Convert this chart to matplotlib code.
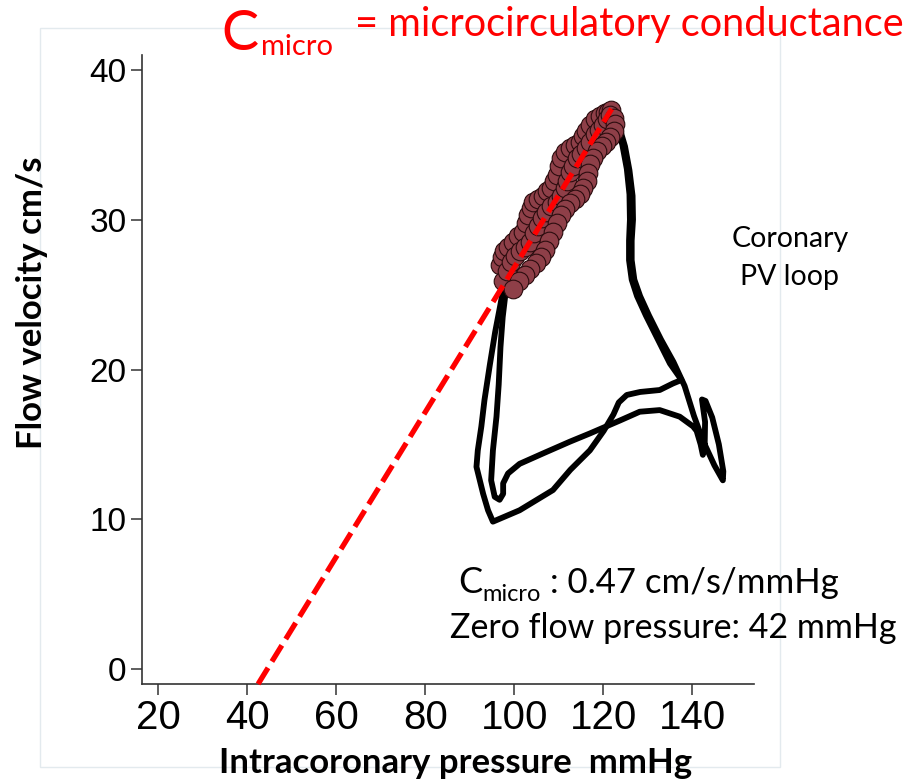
import matplotlib
matplotlib.use("Agg")
import matplotlib.pyplot as plt
from matplotlib.patches import Rectangle

# upstroke shared by both beats (hidden under the circles)
up_p = [97.6, 98.5, 100.0, 102.0, 104.0, 106.0, 108.0, 110.0, 112.0, 114.0, 116.0, 118.0, 120.0, 122.0]
up_v = [25.5, 26.5, 27.5, 28.6, 29.6, 30.3, 31.0, 32.0, 33.3, 34.2, 35.0, 35.9, 36.6, 37.3]

# beat 1 (upper return curve, outer left limb)
beat_b_p = [122.0, 123.1, 124.3, 125.3, 125.9, 126.0, 125.8, 125.8, 126.4, 127.6, 129.6, 132.3, 135.0, 137.6,
            135.7, 132.7, 128.3, 125.3, 123.5, 122.3, 120.1, 117.0, 112.6, 108.7, 101.2, 95.2, 94.1,
            93.0, 91.5, 91.8, 92.6, 93.3, 94.5, 95.7, 96.8, 97.6]
beat_b_v = [37.3, 36.3, 35.0, 33.4, 31.7, 30.0, 28.6, 27.3, 26.0, 24.9, 23.6, 22.0, 20.4, 19.3,
            19.07, 18.63, 18.5, 18.3, 17.8, 17.0, 15.9, 14.6, 13.3, 11.95, 10.6, 9.84, 10.6,
            11.7, 13.5, 14.6, 16.2, 17.96, 20.3, 22.5, 24.2, 25.5]

# beat 2 (right tip, lower return curve, inner left limb)
beat_a_p = [122.3, 123.6, 124.9, 125.9, 126.6, 126.7, 126.4, 126.4, 127.0, 128.3, 130.3, 133.0, 135.8, 138.3,
            140.4, 142.5, 145.0, 146.9, 147.0, 146.0, 144.5, 143.0, 142.2, 142.9, 142.8, 142.4, 141.9,
            141.0, 140.2, 137.2, 132.7, 128.2, 123.8, 117.0, 112.5, 106.5, 101.2, 98.6, 97.5, 97.5,
            96.7, 95.6, 94.8, 95.2, 96.0, 96.5, 96.9, 97.4, 98.0, 98.6]
beat_a_v = [37.2, 36.2, 34.9, 33.3, 31.6, 30.0, 28.6, 27.3, 26.0, 24.9, 23.6, 22.0, 20.5, 18.9,
            16.9, 15.2, 13.6, 12.6, 13.2, 15.0, 16.8, 17.9, 18.0, 16.5, 14.8, 14.3, 15.0,
            15.9, 16.2, 16.85, 17.29, 17.18, 16.6, 15.73, 15.18, 14.4, 13.7, 13.06, 12.4, 11.7,
            11.3, 11.5, 12.6, 14.6, 16.85, 19.0, 21.5, 23.5, 25.0, 26.0]

# samples used for the fit (circles): three overlapping runs along the upstroke
circ_p = [96.7, 97.2, 97.8, 98.7, 99.7, 100.8, 102.0, 102.6, 103.1, 103.7, 104.2, 105.3, 106.5, 107.4,
          108.3, 108.9, 109.5, 110.0, 110.6, 111.5, 112.5, 113.6, 114.7, 115.5, 116.2, 117.1, 118.1,
          119.2, 120.3, 121.0, 121.8,
          97.5, 98.4, 99.3, 100.2, 101.2, 102.3, 103.5, 104.4, 105.3, 106.2, 107.2, 108.3, 109.5, 110.4,
          111.3, 111.9, 112.5, 113.2, 114.0, 115.1, 116.2, 117.1, 118.1, 119.0, 120.0, 120.8, 121.5,
          122.4, 122.6, 122.4, 121.6, 120.7, 119.8, 118.6, 117.7, 117.0, 116.6, 116.3, 115.5, 114.7,
          113.6, 112.5, 111.5, 110.6, 109.6, 108.7, 107.8, 106.8, 105.9, 104.8, 103.6, 102.3, 101.0, 99.7]
circ_v = [27.0, 27.5, 27.9, 28.2, 28.5, 28.9, 29.2, 29.8, 30.3, 30.8, 31.2, 31.4, 31.6, 31.9,
          32.1, 32.6, 33.0, 33.6, 34.1, 34.5, 34.8, 35.0, 35.2, 35.6, 35.9, 36.3, 36.7,
          36.9, 37.1, 37.2, 37.3,
          25.9, 26.6, 27.2, 27.6, 27.9, 28.2, 28.5, 29.1, 29.6, 30.1, 30.5, 30.9, 31.2, 31.6,
          32.1, 32.6, 33.2, 33.6, 34.1, 34.4, 34.8, 35.2, 35.7, 36.0, 36.3, 36.7, 37.0,
          36.8, 36.4, 35.9, 35.5, 35.2, 34.9, 34.6, 34.1, 33.7, 33.1, 32.6, 32.1, 31.7,
          31.4, 31.1, 30.7, 30.3, 29.8, 29.2, 28.6, 28.0, 27.5, 27.1, 26.7, 26.3, 25.9, 25.4]

# fitted conductance line: zero flow pressure -> top of the loop
fit_p = [42.4, 121.9]
fit_v = [-1.0, 37.4]

x_ticks = [20, 40, 60, 80, 100, 120, 140]
y_ticks = [0, 10, 20, 30, 40]

W, H = 911, 783


def fx(px):
    return px / W


def fy(py):
    return 1 - py / H


fig = plt.figure(figsize=(W / 100, H / 100), dpi=100)
fig.patches.append(Rectangle((fx(40), fy(767)), fx(780) - fx(40), fy(28) - fy(767),
                             transform=fig.transFigure, fill=False, edgecolor="#e3eaee", lw=1))

ax = fig.add_axes([fx(142), fy(684), fx(754) - fx(142), fy(55) - fy(684)])
ax.set_xlim(16.3, 153.9)
ax.set_ylim(-1.0, 41.0)

for bp, bv in [(beat_b_p, beat_b_v), (beat_a_p, beat_a_v)]:
    ax.plot(up_p + bp, up_v + bv, color="black", lw=4.2, solid_joinstyle="round",
            solid_capstyle="round", zorder=2)

ax.scatter(circ_p, circ_v, s=180, color="#8e3f48", edgecolor="#2b0c0e", linewidth=0.8, zorder=3)
ax.plot(fit_p, fit_v, color="red", lw=3.8, dashes=(3.6, 1.4), zorder=4, clip_on=False)

ax.spines["top"].set_visible(False)
ax.spines["right"].set_visible(False)
for s in ["left", "bottom"]:
    ax.spines[s].set_color("#333333")
    ax.spines[s].set_linewidth(1.2)

ax.set_xticks(x_ticks, labels=[str(t) for t in x_ticks],
              fontfamily=["Liberation Sans Narrow", "Liberation Sans", "DejaVu Sans"], fontsize=29)
ax.set_yticks(y_ticks, labels=[str(t) for t in y_ticks],
              fontfamily=["Liberation Sans", "DejaVu Sans"], fontsize=24)
ax.tick_params(direction="out", length=8, width=1.1, color="#333333")
ax.tick_params(axis="x", pad=3)
ax.tick_params(axis="y", pad=3)

lato = ["Lato", "DejaVu Sans"]

fig.text(fx(32), fy(303), "Flow velocity cm/s", rotation=90, ha="center", va="center",
         fontsize=25, fontweight="bold", family=lato)
fig.text(fx(456), fy(773), "Intracoronary pressure  mmHg", ha="center", va="baseline",
         fontsize=25, fontweight="bold", family=lato)

# title
fig.text(fx(221), fy(50), "C", color="red", fontsize=40, family=lato, va="baseline")
fig.text(fx(261), fy(55), "micro", color="red", fontsize=21, family=lato, va="baseline")
fig.text(fx(355), fy(36), "= microcirculatory conductance", color="red", fontsize=28.6,
         family=lato, va="baseline")

fig.text(fx(790), fy(247), "Coronary", ha="center", va="baseline", fontsize=20.5, family=lato)
fig.text(fx(790), fy(285), "PV loop", ha="center", va="baseline", fontsize=20.5, family=lato)

fig.text(fx(458), fy(593), "C", fontsize=26, family=lato, va="baseline")
fig.text(fx(482), fy(601), "micro", fontsize=17, family=lato, va="baseline")
fig.text(fx(550), fy(593), ": 0.47 cm/s/mmHg", fontsize=25, family=lato, va="baseline")
fig.text(fx(450), fy(638), "Zero flow pressure: 42 mmHg", fontsize=24.5, family=lato, va="baseline")

fig.savefig("out.png", dpi=100)
